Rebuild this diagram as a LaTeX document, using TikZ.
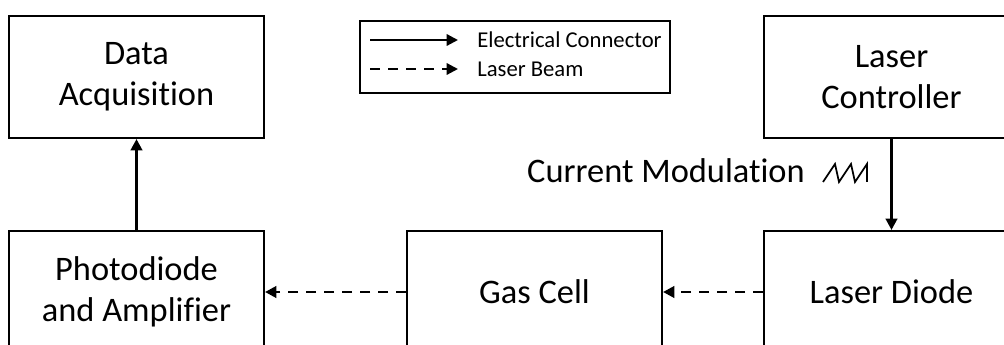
\documentclass[tikz,border=0pt]{standalone}
\usepackage{fontspec}
\setmainfont{Carlito}[Ligatures=CommonOff]
\usetikzlibrary{positioning,arrows.meta}

\begin{document}
\begin{tikzpicture}[x=0.75pt,y=-0.75pt,
        node distance=68.25pt and 105.75pt,
        box/.style={rectangle,draw,line width=1.5pt,align=center,minimum width=191.25pt,minimum height=91.5pt,inner sep=0pt,font=\fontsize{25.8}{30.75}\selectfont},
        arrow/.style={-{Triangle[length=8.5pt,width=8.5pt]},line width=2.2pt},
        beam/.style={arrow,dash pattern=on 7.5pt off 6pt},
        keytext/.style={anchor=west,inner sep=0pt,font=\fontsize{17}{20}\selectfont}]
        \clip (0,0) rectangle (1004,345);
        \node[box] (daq) at (136.5,77) {Data\\Acquisition};
        \node[box,below=of daq] (pd) {Photodiode\\and Amplifier};
        \node[box,right=of pd] (gas) {Gas Cell};
        \node[box,right=75pt of gas] (ld) {Laser Diode};
        \node[box,above=of ld] (lc) {Laser\\Controller};
        \draw[arrow] (pd) -- (daq);
        \draw[arrow] (lc) -- (ld);
        \draw[beam] (ld) -- (gas);
        \draw[beam] (gas) -- (pd);
        % modulation label with sawtooth
        \node[anchor=base east,inner sep=0pt,font=\fontsize{25.8}{30.75}\selectfont] (modtext) at (805,183) {Current Modulation};
        \draw[line width=1.3pt,line join=miter] ([xshift=13.5pt,yshift=0.75pt]modtext.base east) -- ++(12,-18) -- ++(4,18) -- ++(12,-18) -- ++(4,18) -- ++(12,-18) -- ++(0,18);
        % legend
        \node[draw,line width=1.1pt,minimum width=232.5pt,minimum height=54pt,inner sep=0pt] (legend) at (515,57) {};
        \coordinate (wirea) at (370,40);
        \coordinate (wireb) at (458,40);
        \coordinate (beama) at (370,69);
        \coordinate (beamb) at (458,69);
        \draw[arrow,line width=1.7pt] (wirea) -- (wireb);
        \draw[beam,line width=1.7pt] (beama) -- (beamb);
        \node[keytext] (wiretext) at (477,40) {Electrical Connector};
        \node[keytext] (beamtext) at (477,69) {Laser Beam};
\end{tikzpicture}
\end{document}
